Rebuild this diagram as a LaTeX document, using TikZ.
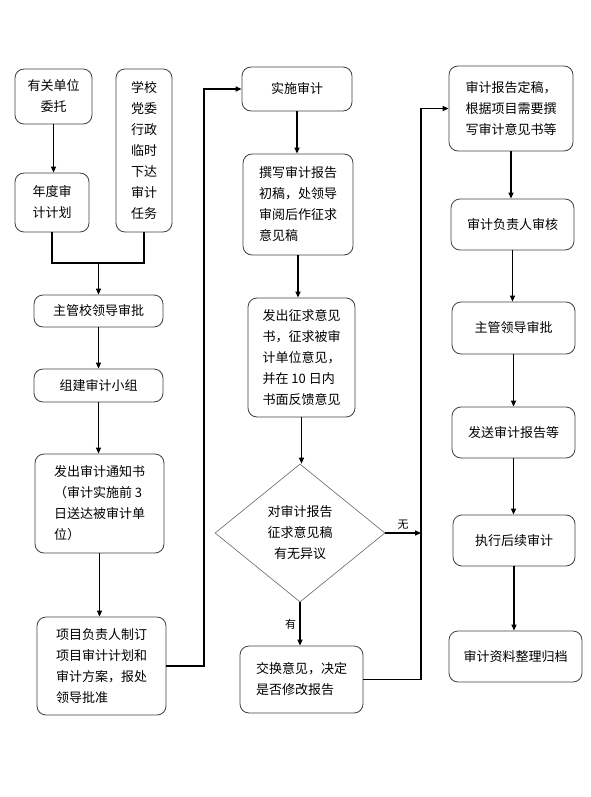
\documentclass[tikz,border=0pt]{standalone}
\usepackage{fontspec}
\setmainfont{Noto Sans CJK SC}
\usetikzlibrary{arrows.meta,shapes.geometric,calc}
\tikzstyle{box}=[draw=black!75,rounded corners=9pt,line width=0.8pt,inner sep=2pt,font=\fontsize{13}{21}\selectfont]
\tikzstyle{decision}=[diamond,draw=black!60,line width=0.6pt,inner sep=0pt,minimum width=170pt,minimum height=138pt,align=center,font=\fontsize{13}{21}\selectfont]
\tikzstyle{edge} = [draw,line width=1.3pt,-{Triangle[length=6pt,width=5pt]}]
\tikzstyle{plainedge} = [draw,line width=1.3pt]
\tikzstyle{weight} = [font=\fontsize{11}{13}\selectfont]

\begin{document}
\begin{tikzpicture}[x=1pt,y=-1pt]

\useasboundingbox (0,0) rectangle (590,797);

%column 1
    \foreach \pos/\name/\w/\h/\al/\txt in {{(53.5,96.5)/A/77/55/center/有关单位\\委托}, {(144,150.5)/B/56/163/center/学校\\党委\\行政\\临时\\下达\\审计\\任务}, {(52,202.5)/C/74/59/center/年度审\\计计划}, {(98.5,311)/D/129/32/center/主管校领导审批}, {(98.5,385.5)/E/129/33/center/组建审计小组}, {(99.5,503.5)/F/129/99/left/发出审计通知书\\（审计实施前 3\\日送达被审计单\\位）}, {(101.5,666)/G/129/98/left/项目负责人制订\\项目审计计划和\\审计方案，报处\\领导批准}}
        \node[box,align=\al,minimum width=\w pt,minimum height=\h pt] (\name) at \pos {\txt};

%column 2
    \foreach \pos/\name/\w/\h/\al/\txt in {{(297,89)/H/110/44/center/实施审计}, {(298,204.5)/I/110/101/left/撰写审计报告\\初稿，处领导\\审阅后作征求\\意见稿}, {(301.5,357.5)/J/107/119/left/发出征求意见\\书，征求被审\\计单位意见，\\并在 10 日内\\书面反馈意见}, {(301.5,679.5)/M/123/67/left/交换意见，决定\\是否修改报告}}
        \node[box,align=\al,minimum width=\w pt,minimum height=\h pt] (\name) at \pos {\txt};

    \node[decision] (K) at (300,533) {对审计报告\\征求意见稿\\有无异议};

%column 3
    \foreach \pos/\name/\w/\h/\al/\txt in {{(511,108.5)/N/124/85/left/审计报告定稿，\\根据项目需要撰\\写审计意见书等}, {(512.5,224.5)/O/123/51/center/审计负责人审核}, {(513.5,328)/P/123/52/center/主管领导审批}, {(513.5,432.5)/Q/123/51/center/发送审计报告等}, {(514,540.5)/R/122/51/center/执行后续审计}, {(515.5,656.5)/S/133/51/center/审计资料整理归档}}
        \node[box,align=\al,minimum width=\w pt,minimum height=\h pt] (\name) at \pos {\txt};

% Edges
    \coordinate (mrg) at (98.5,263);
    \coordinate (lane1) at (204,89);
    \coordinate (lane2) at (421,108.5);

  %column 1
    \path[edge] (A) -- (A |- C.north);
    \path[plainedge] (C) |- (mrg) -| (B);
    \path[edge] (mrg) -- (D);
    \foreach \source/ \dest in {D/E, E/F, F/G}
        \path[edge] (\source) -- (\source |- \dest.north);
    \path[edge] (G) -| (lane1) -- (H);

  %column 2
    \foreach \source/ \dest in {H/I, I/J, J/K}
        \path[edge] (\source) -- (\source |- \dest.north);
    \path[edge] (K) -- (K -| lane2) node[weight,midway,above] {无};
    \path[edge] (K) -- (K |- M.north) node[weight,midway,left] {有};
    \path[edge] (M) -| (lane2) -- (N);

  %column 3
    \foreach \source/ \dest in {N/O, O/P, P/Q, Q/R, R/S}
        \path[edge] (\source) -- (\source |- \dest.north);

\end{tikzpicture}
\end{document}
